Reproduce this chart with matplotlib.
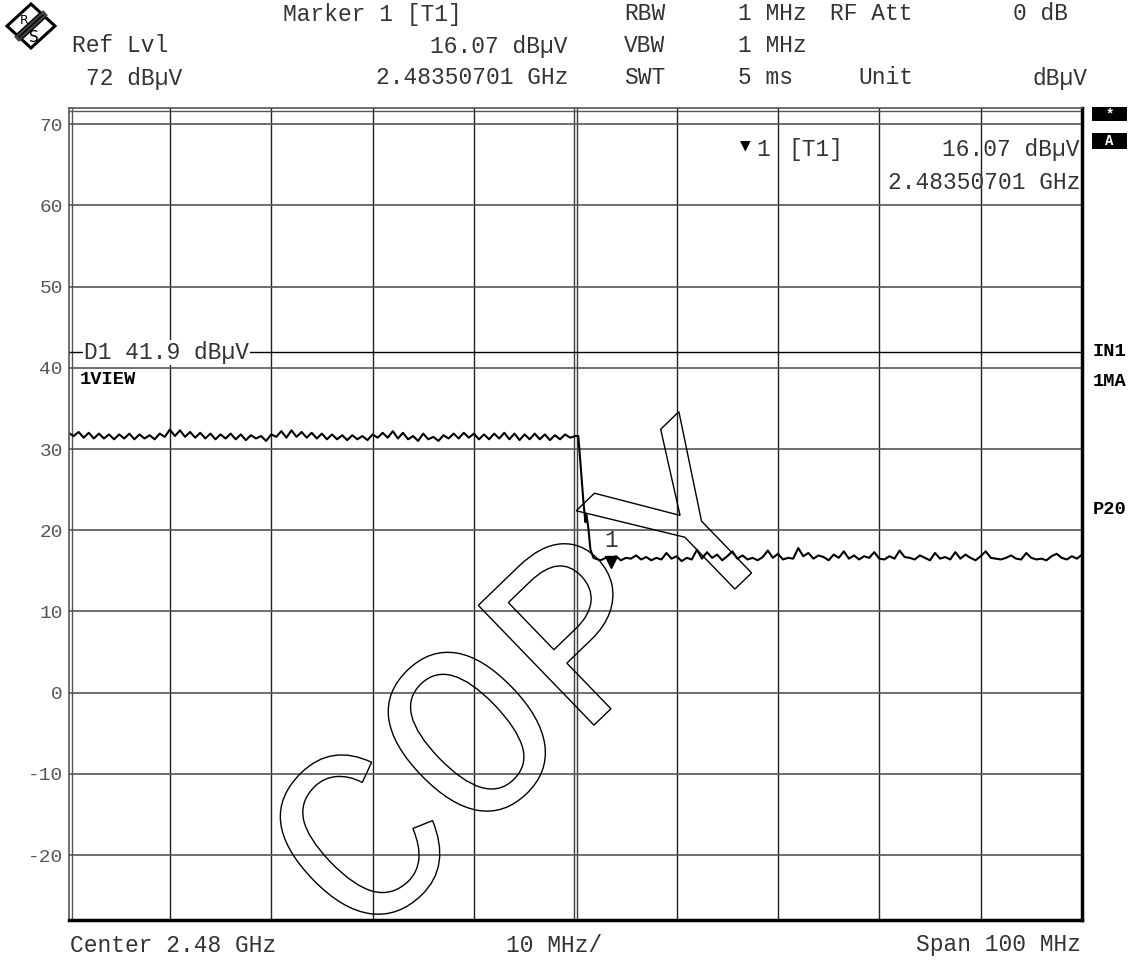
import matplotlib
matplotlib.use("Agg")
import matplotlib.pyplot as plt
import matplotlib.patheffects as pe
from matplotlib.patches import Polygon, Rectangle
from matplotlib.lines import Line2D
import numpy as np

# trace values (dBuV)
left_vals = [32.0, 31.6, 32.1, 31.4, 32.0, 31.3, 31.9, 31.3, 31.8, 31.2, 31.8, 31.3, 31.9, 31.2,
             31.8, 31.3, 31.7, 31.2, 31.9, 31.5, 32.4, 31.6, 32.3, 31.5, 32.1, 31.4, 32.0, 31.3,
             31.9, 31.2, 31.8, 31.3, 31.9, 31.2, 31.8, 31.1, 31.7, 31.3, 31.6, 31.0, 31.8, 31.5,
             32.2, 31.4, 32.3, 31.5, 32.1, 31.4, 32.0, 31.3, 31.9, 31.2, 31.8, 31.2, 31.7, 31.1,
             31.7, 31.2, 31.6, 31.1, 31.8, 31.4, 32.0, 31.4, 32.2, 31.3, 32.0, 31.2, 31.6, 31.0,
             31.9, 31.2, 31.5, 31.0, 31.7, 31.3, 31.9, 31.3, 32.0, 31.4, 31.9, 31.2, 31.8, 31.2,
             31.9, 31.3, 32.0, 31.2, 31.9, 31.1, 31.8, 31.2, 31.9, 31.2, 31.8, 31.1, 31.7, 31.2,
             31.8, 31.4, 31.6]
drop_freq = [2.4803, 2.4805, 2.4808, 2.4810, 2.4811, 2.4813, 2.4815, 2.4818]
drop_vals = [31.6, 28.5, 23.6, 21.0, 22.0, 20.2, 17.6, 16.6]
right_vals = [16.5, 16.3, 16.6, 16.4, 16.8, 16.3, 16.6, 16.5, 16.9, 16.4, 16.7, 16.3, 16.6, 16.4,
              17.2, 16.5, 16.8, 16.2, 16.6, 16.4, 17.6, 16.5, 17.3, 16.6, 17.0, 16.3, 16.8, 17.4,
              16.5, 16.9, 16.4, 16.6, 16.3, 16.7, 17.5, 16.6, 17.1, 16.4, 16.6, 16.5, 17.8, 16.8,
              17.2, 16.5, 16.9, 16.7, 16.3, 17.0, 16.6, 17.4, 16.5, 16.9, 16.4, 16.8, 16.6, 17.3,
              16.5, 16.4, 16.8, 16.5, 17.5, 16.7, 16.6, 16.4, 16.9, 16.6, 16.3, 17.2, 16.5, 16.7,
              16.4, 17.3, 16.5, 17.0, 16.6, 16.3, 16.8, 17.4, 16.6, 16.5, 16.4, 16.6, 16.9, 16.5,
              16.4, 17.2, 16.6, 16.4, 16.5, 16.3, 16.8, 17.1, 16.6, 16.4, 16.8, 16.5, 17.0]

center_ghz = 2.48
span_ghz = 0.1
ref_lvl = 72
marker_f = 2.48350701
marker_v = 16.07
d1_level = 41.9
y_ticks = [70, 60, 50, 40, 30, 20, 10, 0, -10, -20]

f_left = np.linspace(center_ghz - span_ghz / 2, 2.4800, len(left_vals))
f_right = np.linspace(2.4820, center_ghz + span_ghz / 2, len(right_vals))
freq = np.concatenate([f_left, drop_freq, f_right])
level = np.concatenate([left_vals, drop_vals, right_vals])

W, H = 1137, 960
MONO = "Liberation Mono"
TXT = "#333333"
GRID = "#3a3a3a"
FS = 16.5


def fx(x):
    return x / W


def fy(y):
    return 1 - y / H


def px2f(x):
    # pixel column -> frequency in GHz
    return center_ghz - span_ghz / 2 + (x - 68.5) / (1082 - 68.5) * span_ghz


fig = plt.figure(figsize=(W / 100, H / 100), dpi=100)
L, R, T, B = 68.5, 1082, 108, 920
ax = fig.add_axes([fx(L), fy(B), (R - L) / W, (B - T) / H])
x0, x1 = center_ghz - span_ghz / 2, center_ghz + span_ghz / 2
ax.set_xlim(x0, x1)
ax.set_ylim(ref_lvl - 100, ref_lvl)

# grid
for k in range(1, 10):
    xv = x0 + k * span_ghz / 10
    if k == 5:
        ax.axvline(xv - 0.00015, color=GRID, lw=1)
        ax.axvline(xv + 0.00015, color=GRID, lw=1)
    else:
        ax.axvline(xv, color="#202020", lw=1)
for yv in y_ticks:
    ax.axhline(yv, color="#555555", lw=1.2)

ax.set_xticks([])
ax.set_yticks(y_ticks)
ax.set_yticklabels([str(v) for v in y_ticks], fontfamily=MONO, fontsize=14, color="#555555")
ax.tick_params(axis="y", length=0, pad=4)

for s in ["left", "top"]:
    ax.spines[s].set_color("#555555")
    ax.spines[s].set_linewidth(1.2)
for s in ["right", "bottom"]:
    ax.spines[s].set_color("black")
    ax.spines[s].set_linewidth(2.5)
# double lines on left / top
ax.add_line(Line2D([0.003, 0.003], [0, 1], transform=ax.transAxes, color="#555555", lw=1))
ax.add_line(Line2D([0, 1], [0.996, 0.996], transform=ax.transAxes, color="#555555", lw=1))

# display line D1
ax.axhline(d1_level, color="black", lw=1)
ax.text(px2f(84), d1_level, "D1 41.9 dB\u00b5V", fontfamily=MONO, fontsize=FS, color=TXT,
        va="center", ha="left", bbox=dict(facecolor="white", edgecolor="none", pad=0.5))
ax.text(px2f(80), 38.6, "1VIEW", fontfamily=MONO, fontsize=13.5, fontweight="bold",
        color="black", va="center")

# trace
ax.plot(freq, level, color="black", lw=1.5)

# marker
ax.plot([marker_f], [marker_v], marker="v", color="black", ms=8)
ax.text(marker_f, marker_v + 1.3, "1", fontfamily=MONO, fontsize=FS, color=TXT,
        ha="center", va="bottom")

# marker readout inside the grid
ax.text(px2f(745), 67.4, "\u25bc", fontsize=10, color="black", ha="center", va="center")
ax.text(px2f(763), 66.9, "1", fontfamily=MONO, fontsize=FS, color=TXT, ha="center", va="center")
ax.text(px2f(788), 66.9, "[T1]", fontfamily=MONO, fontsize=FS, color=TXT, ha="left", va="center")
ax.text(px2f(1080), 66.9, "16.07 dB\u00b5V", fontfamily=MONO, fontsize=FS, color=TXT,
        ha="right", va="center")
ax.text(px2f(1080), 62.8, "2.48350701 GHz", fontfamily=MONO, fontsize=FS, color=TXT,
        ha="right", va="center")

# COPY watermark (outlined text)
fig.text(fx(534), fy(692), "COPY", fontfamily=MONO, fontsize=182, rotation=44,
         ha="center", va="center",
         path_effects=[pe.PathPatchEffect(edgecolor="black", facecolor="none", linewidth=1)])

# header
hdr = [
    (283, 14, "Marker 1 [T1]", "left"),
    (624, 14, "RBW", "left"),
    (738, 14, "1 MHz", "left"),
    (830, 14, "RF Att", "left"),
    (1068, 14, "0 dB", "right"),
    (72, 46, "Ref Lvl", "left"),
    (568, 46, "16.07 dB\u00b5V", "right"),
    (624, 46, "VBW", "left"),
    (738, 46, "1 MHz", "left"),
    (86, 78, "72 dB\u00b5V", "left"),
    (568, 78, "2.48350701 GHz", "right"),
    (624, 78, "SWT", "left"),
    (738, 78, "5 ms", "left"),
    (858, 78, "Unit", "left"),
    (1088, 78, "dB\u00b5V", "right"),
]
for x, y, s, ha in hdr:
    fig.text(fx(x), fy(y), s, fontfamily=MONO, fontsize=FS, color=TXT, ha=ha, va="center")

# footer
fig.text(fx(70), fy(945), "Center 2.48 GHz", fontfamily=MONO, fontsize=FS, color=TXT, va="center")
fig.text(fx(554), fy(945), "10 MHz/", fontfamily=MONO, fontsize=FS, color=TXT,
         ha="center", va="center")
fig.text(fx(1081), fy(945), "Span 100 MHz", fontfamily=MONO, fontsize=FS, color=TXT,
         ha="right", va="center")

# right side labels
for y, s in [(352, "IN1"), (381, "1MA"), (509, "P20")]:
    fig.text(fx(1110), fy(y), s, fontfamily=MONO, fontsize=13.5, fontweight="bold",
             color="black", ha="center", va="center")
for ytop, ybot, s in [(107, 121, "*"), (133, 149, "A")]:
    fig.patches.append(Rectangle((fx(1092), fy(ybot)), 35 / W, (ybot - ytop) / H,
                                 transform=fig.transFigure, facecolor="black", edgecolor="none"))
    fig.text(fx(1109.5), fy((ytop + ybot) / 2), s, fontfamily=MONO, fontsize=10,
             fontweight="bold", color="white", ha="center", va="center")

# R&S logo
cx, cy, rx, ry = 31, 26, 24, 22
dia = [(fx(cx), fy(cy - ry)), (fx(cx + rx), fy(cy)), (fx(cx), fy(cy + ry)), (fx(cx - rx), fy(cy))]
fig.patches.append(Polygon(dia, closed=True, transform=fig.transFigure, facecolor="white",
                           edgecolor="black", lw=2.2))
fig.lines.append(Line2D([fx(cx - 12), fx(cx + 12)], [fy(cy + 11), fy(cy - 11)],
                        transform=fig.transFigure, color="#444444", lw=5))
for d in (-2.5, 0, 2.5):
    fig.lines.append(Line2D([fx(cx - 12 + d), fx(cx + 12 + d)], [fy(cy + 11 + d), fy(cy - 11 + d)],
                            transform=fig.transFigure, color="black", lw=1))
fig.text(fx(cx - 7), fy(cy - 5), "R", fontfamily="DejaVu Sans", fontsize=9, color="black",
         ha="center", va="center")
fig.text(fx(cx + 3), fy(cy + 11), "S", fontfamily="DejaVu Sans", fontsize=11, color="black",
         ha="center", va="center")

fig.savefig("out.png", dpi=100)
